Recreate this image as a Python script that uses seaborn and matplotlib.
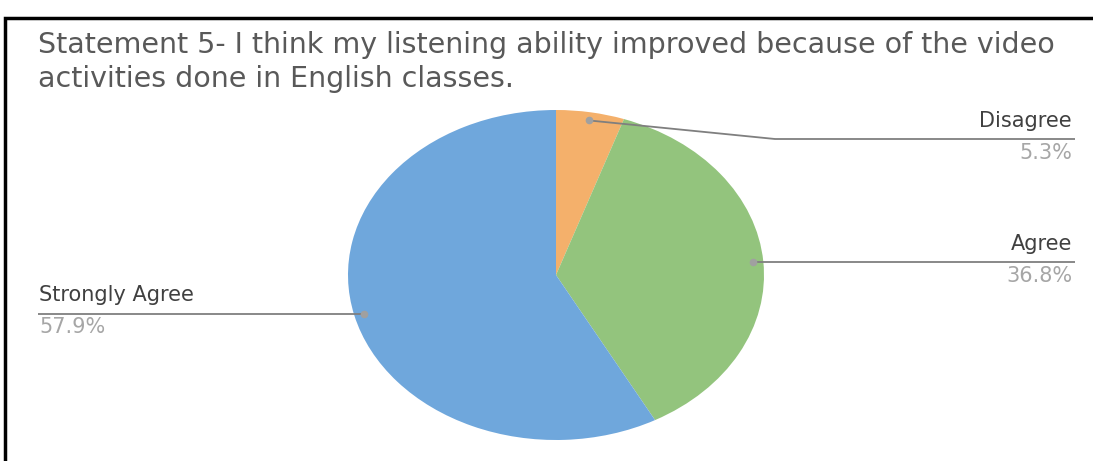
import numpy as np
import matplotlib
matplotlib.use("Agg")
import matplotlib.pyplot as plt
from matplotlib.patches import Rectangle
import seaborn as sns

# Survey responses for statement 5
categories = ["Disagree", "Agree", "Strongly Agree"]
shares = [5.3, 36.8, 57.9]
pct_labels = ["5.3%", "36.8%", "57.9%"]
colors = ["#f4b06b", "#93c47d", "#6fa7dc"]
title_lines = ["Statement 5- I think my listening ability improved because of the video",
               "activities done in English classes."]

sns.set_theme(style="white")
plt.rcParams["font.family"] = ["DejaVu Sans"]

W, H = 1093, 461
fig = plt.figure(figsize=(W / 100, H / 100), dpi=100)
fig.patch.set_facecolor("white")

# Axes over the whole canvas; the unit pie maps to an ellipse
cx, cy, rx, ry = 556, 275, 208, 165
ax = fig.add_axes([0, 0, 1, 1])

wedges, _ = ax.pie(shares, colors=colors, startangle=90, counterclock=False,
                   radius=1.0, center=(0, 0), frame=True,
                   wedgeprops=dict(linewidth=0))
ax.set_xlim(-cx / rx, (W - cx) / rx)
ax.set_ylim((cy - H) / ry, cy / ry)
ax.set_aspect("auto")
ax.axis("off")


def px(x, y):
    """Pixel position (from top-left) to data coordinates."""
    return (x - cx) / rx, (cy - y) / ry


# Leader anchor points at each wedge's mid-angle
angles = []
start = 90.0
for s in shares:
    sweep = 360.0 * s / sum(shares)
    angles.append(np.deg2rad(start - sweep / 2))
    start -= sweep
anchors = [(0.95 * np.cos(a), 0.95 * np.sin(a)) for a in angles]

line_col = "#7f7f7f"
name_col = "#404040"
pct_col = "#a6a6a6"

# label layout: (knee x, line y, line end x, text x, alignment)
layout = {
    "Disagree": (775, 139, 1075, 1072, "right"),
    "Agree": (None, 262, 1075, 1072, "right"),
    "Strongly Agree": (None, 313, 38, 39, "left"),
}

for cat, pct, (ax0, ay0) in zip(categories, pct_labels, anchors):
    knee, ly, endx, tx, ha = layout[cat]
    xs, ys = [ax0], [ay0]
    if knee is not None:
        kx, ky = px(knee, ly)
        xs.append(kx)
        ys.append(ky)
    ex, ey = px(endx, ly)
    xs.append(ex)
    ys.append(ay0 if knee is None else ey)
    ax.plot(xs, ys, color=line_col, lw=1.3, solid_capstyle="butt", zorder=3)
    ax.plot([ax0], [ay0], "o", color="#a0a0a0", ms=4.5, zorder=4)
    tx_d, ty_d = px(tx, ly - 12)
    ax.text(tx_d, ty_d, cat, ha=ha, va="baseline", fontsize=15, color=name_col)
    tx_d, ty_d = px(tx, ly + 20)
    ax.text(tx_d, ty_d, pct, ha=ha, va="baseline", fontsize=15, color=pct_col)

for line, base in zip(title_lines, [53, 87]):
    fig.text(38 / W, 1 - base / H, line, ha="left", va="baseline", fontsize=20.5,
             color="#595959")

# Outer frame
fig.patches.append(Rectangle((5 / W, -0.1), 1.2, 1 - 18 / H + 0.1,
                             transform=fig.transFigure, fill=False,
                             edgecolor="black", lw=2.5))

fig.savefig("out.png", dpi=100, facecolor="white")
